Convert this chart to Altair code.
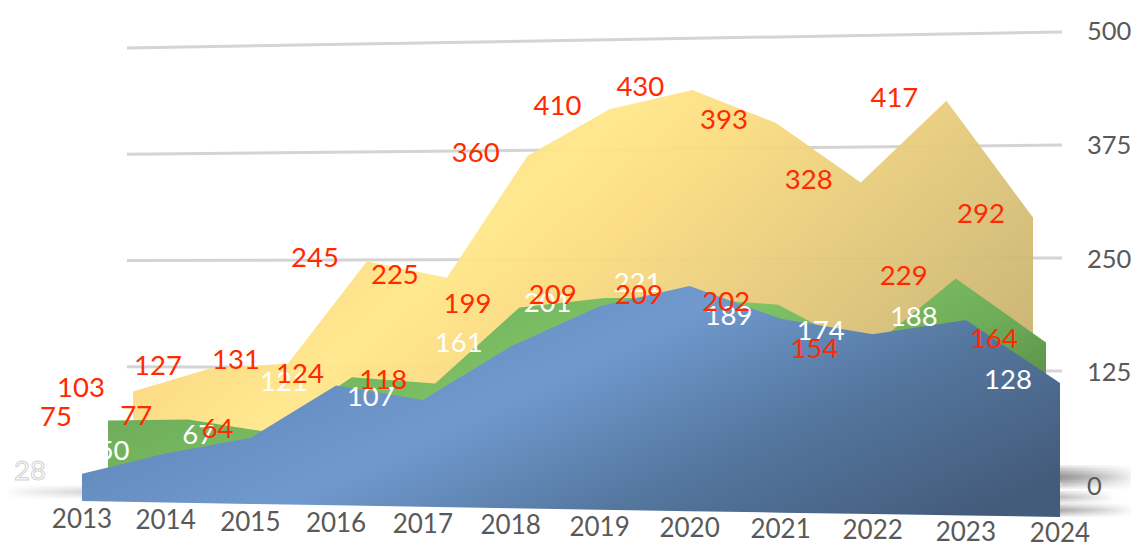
import altair as alt
import pandas as pd

years = list(range(2013, 2025))
front = [28, 50, 67, 121, 107, 161, 201, 221, 189, 174, 188, 128]
middle = [75, 77, 64, 124, 118, 199, 209, 209, 202, 154, 229, 164]
back = [103, 127, 131, 245, 225, 360, 410, 430, 393, 328, 417, 292]
ticks = [0, 125, 250, 375, 500]

W, H = 1123, 537
FONT = "Lato"
RED = "#ff2a00"
GREY = "#595959"

# perspective of each depth plane: (x left, x right, x bow, base left, base right, scale left, scale right, base bow)
PLANES = {
    "front": (82, 1060, 64, 501, 517, 0.97, 1.047, 0),
    "middle": (108, 1046, 60, 489, 504, 0.915, 0.985, 0),
    "back": (133, 1033, 58, 481, 489, 0.87, 0.93, 24),
}


def project(chart, plane):
    xl, xr, k, bl, br, sl, sr, bow = PLANES[plane]
    return chart.transform_calculate(
        s="(datum.year-2013)/11"
    ).transform_calculate(
        px=f"{xl}+{xr - xl}*datum.s+{k}*datum.s*(datum.s-1)",
        py0=f"{bl}+{br - bl}*datum.s-{bow}*datum.s*(1-datum.s)",
        k=f"{sl}+{sr - sl}*datum.s",
    ).transform_calculate(py="datum.py0-datum.value*datum.k")


X = alt.X("px:Q", axis=None, scale=alt.Scale(domain=[8, 8 + W], range=[0, W], nice=False, zero=False))
Y = alt.Y("py:Q", axis=None, scale=alt.Scale(domain=[8, 8 + H], range=[0, H], nice=False, zero=False))


def grad(stops, x1=0, y1=0.3, x2=1, y2=0.8):
    return alt.Gradient(
        gradient="linear", x1=x1, y1=y1, x2=x2, y2=y2,
        stops=[alt.GradientStop(offset=o, color=c) for o, c in stops],
    )


def series(values):
    return pd.DataFrame({"year": years, "value": values})


def area(values, plane, fill, opacity=1):
    base = alt.Chart(series(values)).mark_area(fill=grad(fill), opacity=opacity, line=False, interpolate="linear")
    return project(base, plane).encode(x=X, y=Y, y2="py0:Q")


def labels(values, plane, color, **kw):
    base = alt.Chart(series(values)).mark_text(
        font=FONT, fontSize=27.5, color=color, dx=-52, dy=-2, baseline="middle", align="center", **kw
    )
    return project(base, plane).encode(x=X, y=Y, text="value:Q")


def streak(x1, x2, yc, h, op, fade_right=True):
    """Soft floor shadow: stacked translucent strips fading out sideways."""
    out = []
    for frac in (1.0, 0.875, 0.75, 0.625, 0.5, 0.375, 0.25, 0.125):
        stops = [
            alt.GradientStop(offset=0, color=f"rgba(70,70,70,{op})"),
            alt.GradientStop(offset=1, color="rgba(70,70,70,0)"),
        ]
        fill = alt.Gradient(
            gradient="linear", x1=0 if fade_right else 1, x2=1 if fade_right else 0, y1=0, y2=0, stops=stops
        )
        hh = h * frac / 2
        out.append(
            alt.Chart(pd.DataFrame({"i": [0]})).mark_rect(fill=fill).encode(
                x=alt.value(x1 - 8), x2=alt.value(x2 - 8),
                y=alt.value(yc - hh - 8), y2=alt.value(yc + hh - 8),
            )
        )
    return out


shadows = (
    streak(1050, 1139, 477, 24, 0.11)
    + streak(1050, 1115, 497, 14, 0.06)
    + streak(1050, 1135, 510, 14, 0.08)
    + streak(0, 90, 492, 14, 0.03, fade_right=False)
)

grid_df = pd.DataFrame({"tick": ticks})
grid = (
    alt.Chart(pd.concat([grid_df.assign(e=0), grid_df.assign(e=1)]))
    .mark_line(color="#d4d4d4", strokeWidth=3)
    .transform_calculate(
        px="127+935*datum.e",
        py="(473+11*datum.e)-datum.tick*(0.85+0.054*datum.e)",
    )
    .encode(x=X, y=Y, detail="tick:N")
)

tick_labels = (
    alt.Chart(grid_df)
    .mark_text(font=FONT, fontSize=25.5, color=GREY, align="left", baseline="middle")
    .transform_calculate(px="1087", py="487-0.91*datum.tick")
    .encode(x=X, y=Y, text="tick:Q")
)

year_labels = (
    alt.Chart(pd.DataFrame({"year": years}))
    .mark_text(font=FONT, fontSize=26, color=GREY, align="center", baseline="middle")
    .transform_calculate(s="(datum.year-2013)/11")
    .transform_calculate(
        px="82+978*datum.s+64*datum.s*(datum.s-1)",
        py="520+14*datum.s",
    )
    .encode(x=X, y=Y, text="year:O")
)

yellow = [(0, "#f7d782"), (0.18, "#fbd980"), (0.33, "#ffe78a"), (0.45, "#fbdc80"), (0.7, "#dfc67a"), (1, "#c3ad6c")]
green = [(0, "#67a356"), (0.45, "#80c566"), (0.7, "#6fae59"), (1, "#4c7a3d")]
blue = [(0, "#5c81b2"), (0.42, "#7099ce"), (0.7, "#54779f"), (1, "#445c7c")]

outline = project(
    alt.Chart(series(front)).mark_text(
        font=FONT, fontSize=27.5, color="white", stroke="#d0d0d0", strokeWidth=1,
        dx=-52, dy=-2, baseline="middle", align="center",
    ),
    "front",
).transform_filter("datum.year==2013").encode(x=X, y=Y, text="value:Q")

chart = alt.layer(
    *shadows,
    grid,
    area(back, "back", yellow, 0.95),
    area(middle, "middle", green),
    area(front, "front", blue),
    tick_labels,
    year_labels,
    labels(front, "front", "white"),
    outline,
    labels(middle, "middle", RED),
    labels(back, "back", RED),
).properties(
    width=W, height=H, padding=0, autosize=alt.AutoSizeParams(type="none")
).configure_view(stroke=None)

chart.save("out.html", embed_options={"renderer": "svg", "actions": False})
